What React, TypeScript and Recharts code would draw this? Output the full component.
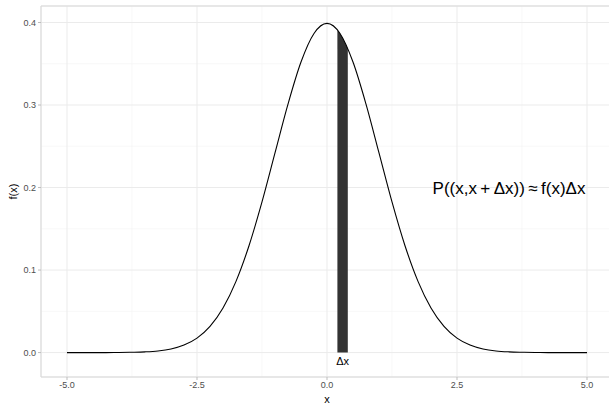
import React from "react"
import {
  ComposedChart,
  Line,
  Area,
  XAxis,
  YAxis,
  CartesianGrid,
  ReferenceLine,
  ReferenceDot,
  Label,
} from "recharts"

// density curve at 0.25 steps
const xValues = [
  -5, -4.75, -4.5, -4.25, -4, -3.75, -3.5, -3.25, -3, -2.75, -2.5, -2.25, -2, -1.75, -1.5, -1.25, -1, -0.75, -0.5,
  -0.25, 0, 0.25, 0.5, 0.75, 1, 1.25, 1.5, 1.75, 2, 2.25, 2.5, 2.75, 3, 3.25, 3.5, 3.75, 4, 4.25, 4.5, 4.75, 5,
]
const densityValues = [
  0, 0, 0, 0, 0.0001, 0.0004, 0.0009, 0.002, 0.0044, 0.0091, 0.0175, 0.0317, 0.054, 0.0863, 0.1295, 0.1826, 0.242,
  0.3011, 0.3521, 0.3867, 0.3989, 0.3867, 0.3521, 0.3011, 0.242, 0.1826, 0.1295, 0.0863, 0.054, 0.0317, 0.0175,
  0.0091, 0.0044, 0.002, 0.0009, 0.0004, 0.0001, 0, 0, 0, 0,
]

// shaded strip under the curve
const shadeX = [0.2, 0.25, 0.3, 0.35, 0.4]
const shadeY = [0.391, 0.3867, 0.3814, 0.3752, 0.3683]

const xTicks = [-5, -2.5, 0, 2.5, 5]
const yTicks = [0, 0.1, 0.2, 0.3, 0.4]
const xMinor = [-3.75, -1.25, 1.25, 3.75]
const yMinor = [0.05, 0.15, 0.25, 0.35]

const curveData = xValues.map((x, i) => ({ x, y: densityValues[i] }))
const shadeData = shadeX.map((x, i) => ({ x, s: shadeY[i] }))

const FONT = "'Liberation Sans', Arial, sans-serif"
const tickStyle = { fill: "#4d4d4d", fontSize: 9, fontFamily: FONT }

export default function App() {
  return (
    <div
      style={{
        position: "absolute",
        left: 0,
        top: 0,
        width: 609,
        height: 404,
        overflow: "hidden",
        background: "#fff",
        fontFamily: FONT,
      }}
    >
      <ComposedChart width={613} height={404} data={curveData} margin={{ top: 6, right: 0, bottom: 0, left: 10 }}>
        <CartesianGrid stroke="#f4f4f4" strokeWidth={0.6} horizontalValues={yMinor} verticalValues={xMinor} />
        <CartesianGrid stroke="#ebebeb" strokeWidth={1} />
        <ReferenceLine y={0.42} stroke="#d9d9d9" strokeWidth={1} />
        <XAxis
          type="number"
          dataKey="x"
          domain={[-5.5, 5.5]}
          ticks={xTicks}
          tickFormatter={(v: number) => v.toFixed(1)}
          allowDataOverflow
          height={27}
          tick={tickStyle}
          tickSize={3}
          tickMargin={2}
          tickLine={{ stroke: "#bdbdbd" }}
          axisLine={{ stroke: "#d9d9d9" }}
        >
          <Label value="x" position="insideBottom" offset={1} style={{ fill: "#000", fontSize: 11, fontFamily: FONT }} />
        </XAxis>
        <YAxis
          type="number"
          domain={[-0.0296, 0.42]}
          ticks={yTicks}
          tickFormatter={(v: number) => v.toFixed(1)}
          allowDataOverflow
          width={31}
          tick={tickStyle}
          tickSize={3}
          tickMargin={2}
          tickLine={{ stroke: "#bdbdbd" }}
          axisLine={{ stroke: "#d9d9d9" }}
        >
          <Label
            value="f(x)"
            angle={-90}
            position="insideLeft"
            offset={3}
            style={{ fill: "#000", fontSize: 11, fontFamily: FONT, textAnchor: "middle" }}
          />
        </YAxis>
        <Area
          data={shadeData}
          dataKey="s"
          type="linear"
          baseValue={0}
          fill="#333333"
          fillOpacity={1}
          stroke="none"
          isAnimationActive={false}
        />
        <Line
          dataKey="y"
          type="monotone"
          stroke="#000"
          strokeWidth={1.1}
          dot={false}
          activeDot={false}
          isAnimationActive={false}
        />
        <ReferenceDot
          x={0.3}
          y={-0.01}
          r={0}
          fill="none"
          stroke="none"
          label={{ value: "Δx", position: "center", fill: "#000", fontSize: 11, fontFamily: FONT }}
        />
        <ReferenceDot
          x={3.5}
          y={0.2}
          r={0}
          fill="none"
          stroke="none"
          label={{ value: "P((x,x\u2009+\u2009Δx))\u2009≈\u2009f(x)Δx", position: "center", fill: "#000", fontSize: 17, fontFamily: FONT }}
        />
      </ComposedChart>
    </div>
  )
}
